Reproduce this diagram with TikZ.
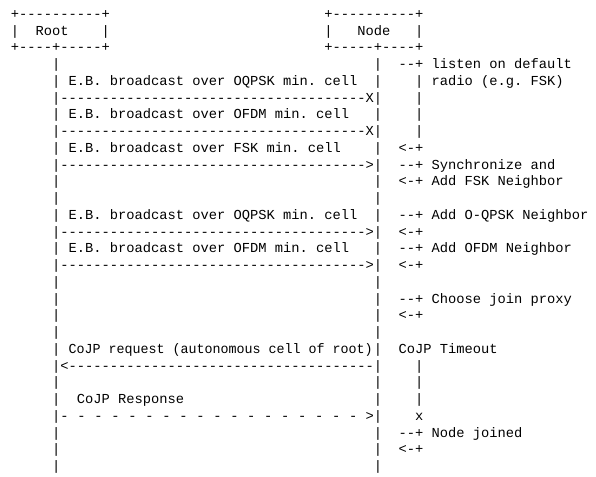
\documentclass[tikz,border=0pt]{standalone}
\usepackage{fontspec}
\setmonofont{Liberation Mono}
\begin{document}
\begin{tikzpicture}[x=8.25pt,y=-16.75pt,
  t/.style={anchor=base west,inner sep=0pt,outer sep=0pt,
    font=\ttfamily\fontsize{13.75pt}{16pt}\selectfont\frenchspacing}]
\useasboundingbox (-10.9pt,18.3pt) rectangle (585.1pt,-457.7pt);
% boxes
\node[t] (rootTop) at (0,0) {+----------+};
\node[t] (nodeTop) at (38,0) {+----------+};
\node[t] (rootL) at (0,1) {|};
\node[t] (root) at (3,1) {Root};
\node[t] (rootR) at (11,1) {|};
\node[t] (nodeL) at (38,1) {|};
\node[t] (node) at (42,1) {Node};
\node[t] (nodeR) at (49,1) {|};
\node[t] (rootBot) at (0,2) {+----+-----+};
\node[t] (nodeBot) at (38,2) {+-----+----+};
% lifelines
\foreach \r in {4,5,7,9,11,12,13,15,17,18,19,20,21,23,24,26,27,28}{
  \node[t] (lr\r) at (5,{\r-1}) {|};
  \node[t] (ln\r) at (44,{\r-1}) {|};
}
\foreach \r in {5,6,7,8,22,23,24}{
  \node[t] (tl\r) at (49,{\r-1}) {|};
}
% messages
\node[t] (m1) at (7,4) {E.B. broadcast over OQPSK min. cell};
\node[t] (a1) at (5,5) {|-------------------------------------X|};
\node[t] (m2) at (7,6) {E.B. broadcast over OFDM min. cell};
\node[t] (a2) at (5,7) {|-------------------------------------X|};
\node[t] (m3) at (7,8) {E.B. broadcast over FSK min. cell};
\node[t] (a3) at (5,9) {|------------------------------------->|};
\node[t] (m4) at (7,12) {E.B. broadcast over OQPSK min. cell};
\node[t] (a4) at (5,13) {|------------------------------------->|};
\node[t] (m5) at (7,14) {E.B. broadcast over OFDM min. cell};
\node[t] (a5) at (5,15) {|------------------------------------->|};
\node[t,xscale=0.97] (m6) at (7,20) {CoJP request (autonomous cell of root)};
\node[t] (a6) at (5,21) {|<-------------------------------------|};
\node[t] (m7) at (8,23) {CoJP Response};
\node[t] (a7l) at (5,24) {|};
\foreach \i in {0,...,17}{
  \node[t] (d\i) at ({6+\i*35/17},24) {-};
}
\node[t] (a7r) at (43,24) {>|};
% node-side annotations
\node[t] (s1) at (47,3) {--+};
\node[t] (l1) at (51,3) {listen on default};
\node[t] (l1b) at (51,4) {radio (e.g. FSK)};
\node[t] (e1) at (47,8) {<-+};
\node[t] (s2) at (47,9) {--+};
\node[t] (l2) at (51,9) {Synchronize and};
\node[t] (e2) at (47,10) {<-+};
\node[t] (l2b) at (51,10) {Add FSK Neighbor};
\node[t] (s3) at (47,12) {--+};
\node[t] (l3) at (51,12) {Add O-QPSK Neighbor};
\node[t] (e3) at (47,13) {<-+};
\node[t] (s4) at (47,14) {--+};
\node[t] (l4) at (51,14) {Add OFDM Neighbor};
\node[t] (e4) at (47,15) {<-+};
\node[t] (s5) at (47,17) {--+};
\node[t] (l5) at (51,17) {Choose join proxy};
\node[t] (e5) at (47,18) {<-+};
\node[t] (to) at (47,20) {CoJP Timeout};
\node[t] (tx) at (49,24) {x};
\node[t] (s6) at (47,25) {--+};
\node[t] (l6) at (51,25) {Node joined};
\node[t] (e6) at (47,26) {<-+};
\end{tikzpicture}
\end{document}
